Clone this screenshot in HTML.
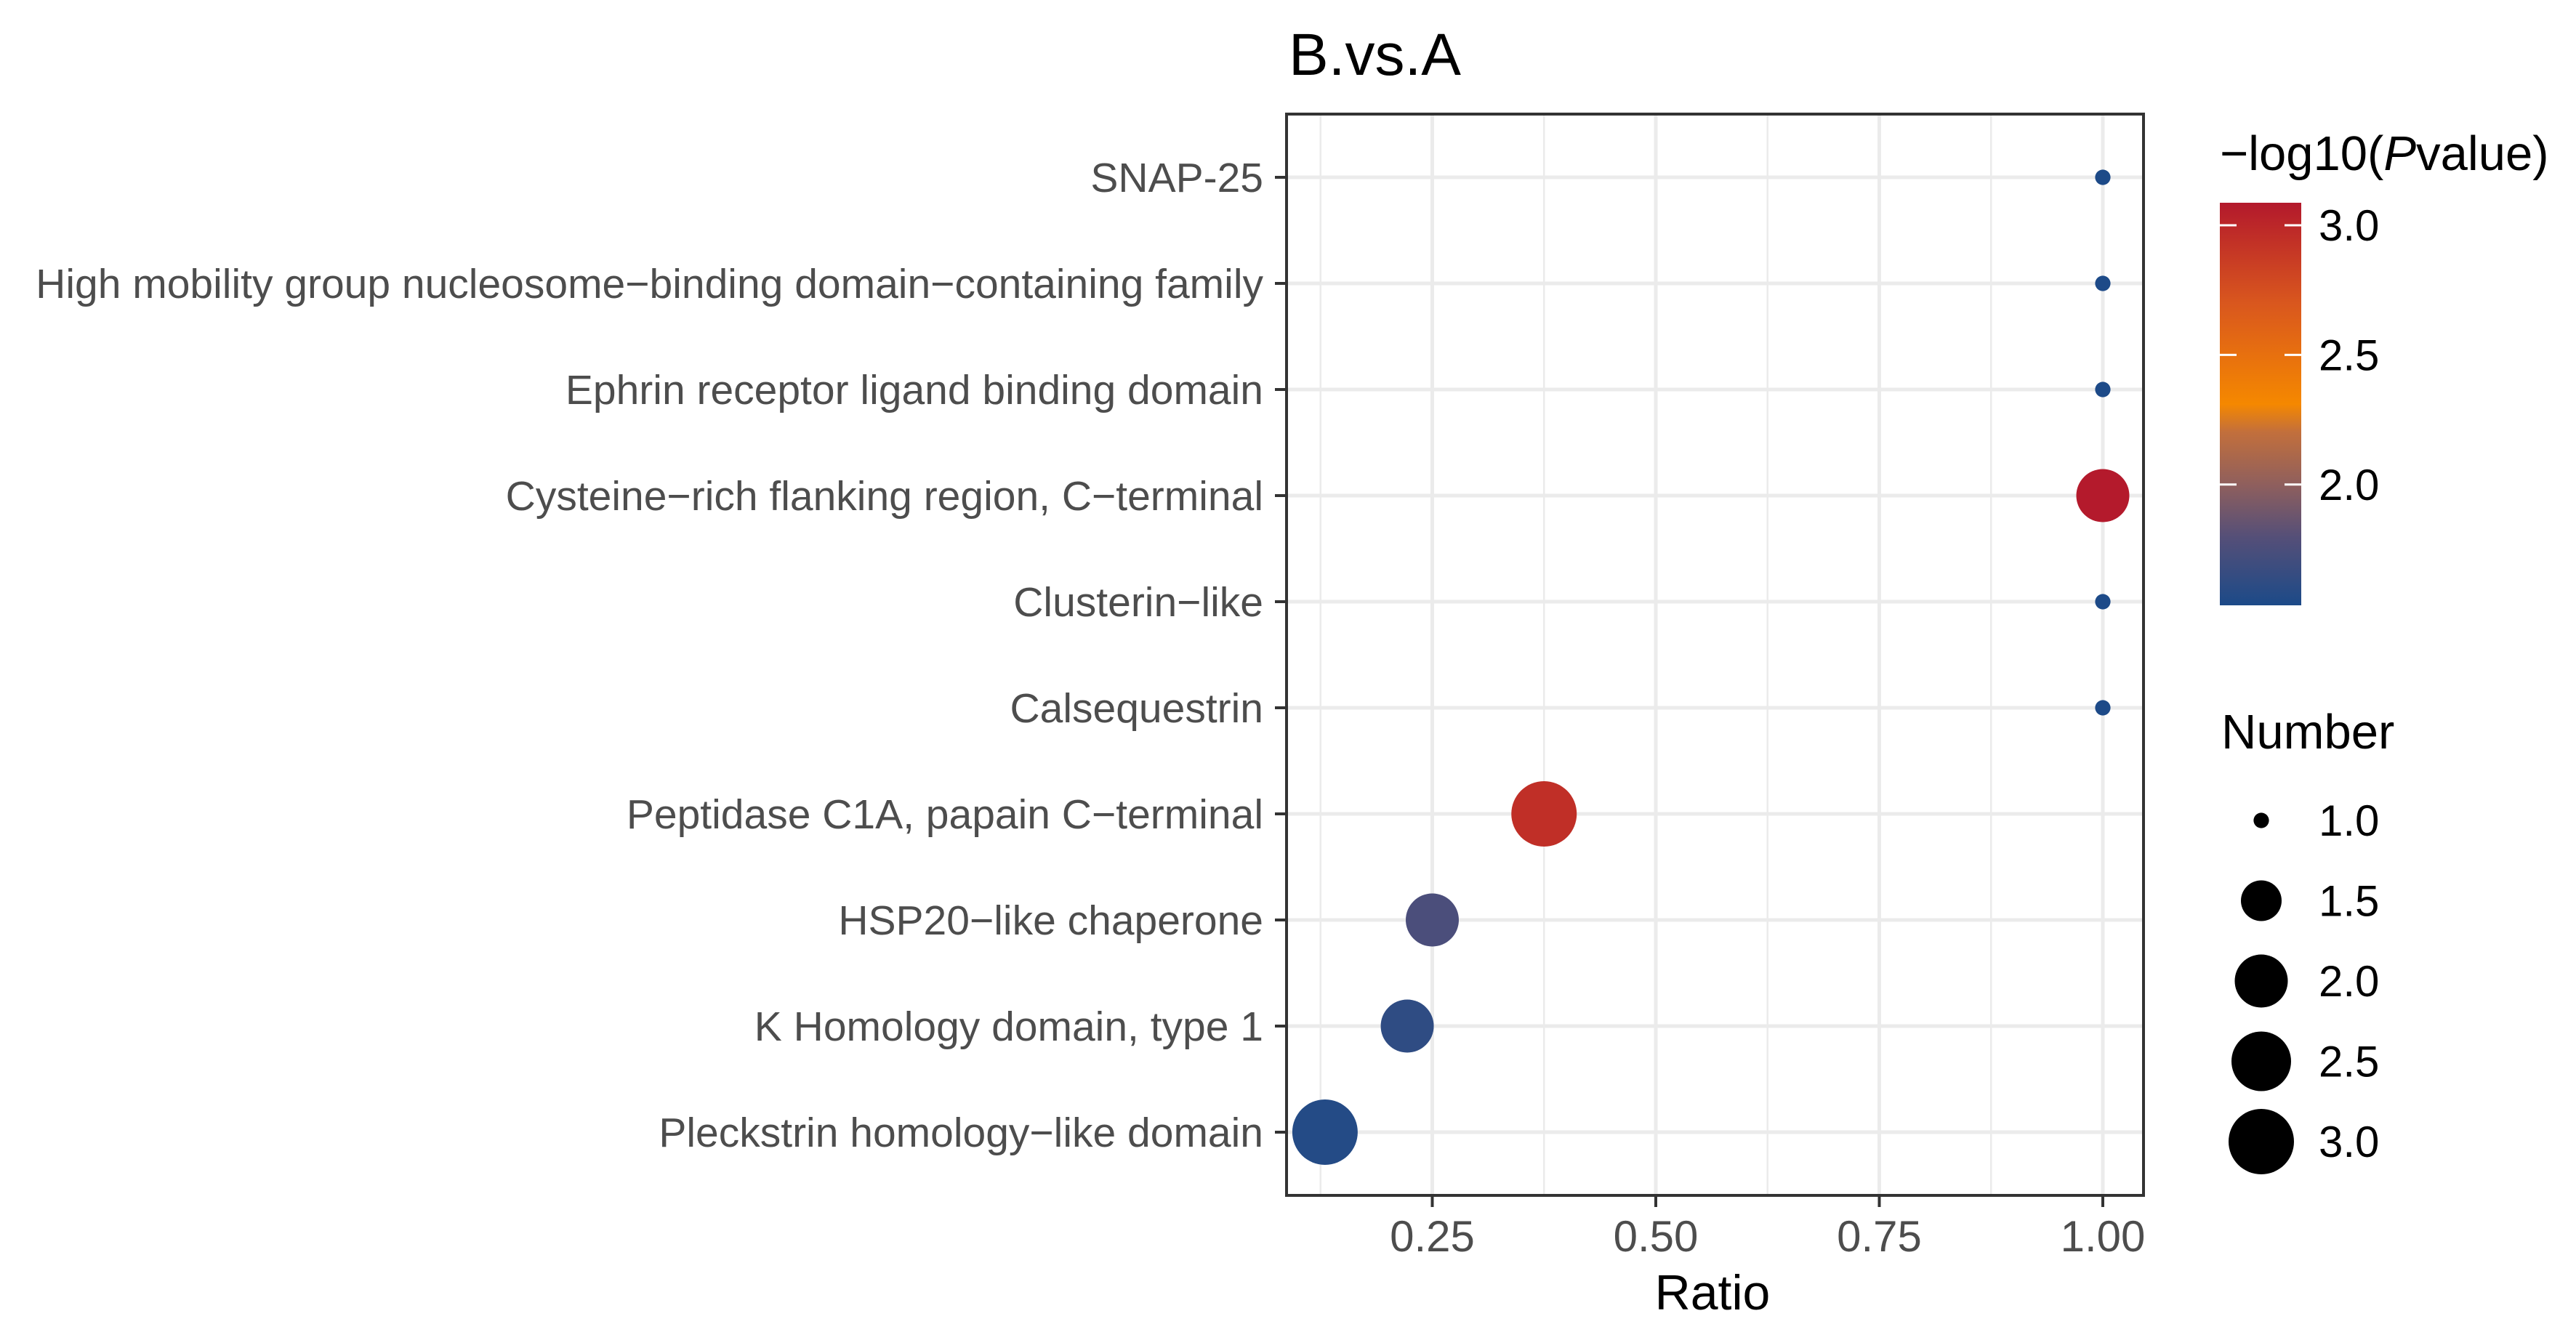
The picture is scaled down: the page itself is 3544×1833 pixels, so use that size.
<!DOCTYPE html>
<html><head><meta charset="utf-8"><style>
html,body{margin:0;padding:0;background:#fff;}
svg{display:block;font-family:"Liberation Sans",Arial,sans-serif;}
</style></head><body>
<svg id="chart" width="3544" height="1833" viewBox="0 0 3544 1833">
<defs>
<linearGradient id="cbar" x1="0" y1="1" x2="0" y2="0">
<stop offset="0" stop-color="#1c4a88"/>
<stop offset="0.17" stop-color="#554f78"/>
<stop offset="0.3" stop-color="#8f5f5d"/>
<stop offset="0.43" stop-color="#c26f3c"/>
<stop offset="0.5" stop-color="#f58800"/>
<stop offset="0.75" stop-color="#d9571e"/>
<stop offset="1" stop-color="#b3192c"/>
</linearGradient>
</defs>
<text x="1773" y="103" font-size="82" fill="#000">B.vs.A</text>
<g id="grid"></g>
<g id="marks"></g>
<rect x="1770" y="157" width="1179" height="1488" fill="none" stroke="#333" stroke-width="4"/>
<g id="axes"></g>
<text x="2356" y="1802" font-size="68" text-anchor="middle" fill="#000">Ratio</text>
<g id="legend">
<text x="3054" y="234" font-size="67" fill="#000">−log10(<tspan font-style="italic">P</tspan>value)</text>
<rect x="3054" y="279" width="112" height="554" fill="url(#cbar)"/>
<text x="3056" y="1030" font-size="67" fill="#000">Number</text>
</g>
</svg>
<script>
const categories = ["SNAP-25","High mobility group nucleosome−binding domain−containing family","Ephrin receptor ligand binding domain","Cysteine−rich flanking region, C−terminal","Clusterin−like","Calsequestrin","Peptidase C1A, papain C−terminal","HSP20−like chaperone","K Homology domain, type 1","Pleckstrin homology−like domain"];
const ratioValues = [1.0,1.0,1.0,1.0,1.0,1.0,0.375,0.25,0.222,0.13];
const countValues = [1,1,1,2,1,1,3,2,2,3];
const logPValues = [1.54,1.54,1.54,3.08,1.54,1.54,2.95,1.75,1.62,1.57];
const xTicks = [0.25,0.5,0.75,1.0];
const xTickLabels = ["0.25","0.50","0.75","1.00"];
const xMinorTicks = [0.125,0.375,0.625,0.875];
const colorTicks = [2.0,2.5,3.0];
const colorTickLabels = ["2.0","2.5","3.0"];
const sizeBreaks = [1.0,1.5,2.0,2.5,3.0];
const sizeLabels = ["1.0","1.5","2.0","2.5","3.0"];

const NS="http://www.w3.org/2000/svg";
const px0=1663, pxPer=1230;
function xs(v){return px0+v*pxPer;}
function ys(i){return 244+i*146;}
const cMin=1.534,cMax=3.087,cTop=279,cBot=833;
function cs(v){return cBot-(v-cMin)/(cMax-cMin)*(cBot-cTop);}
const sizeDom=[1,1.5,2,2.5,3], sizeRad=[10.6,28,36.5,41,45];
function rs(n){
  if(n<=sizeDom[0])return sizeRad[0];
  for(let i=1;i<sizeDom.length;i++){if(n<=sizeDom[i]){const t=(n-sizeDom[i-1])/(sizeDom[i]-sizeDom[i-1]);return sizeRad[i-1]+t*(sizeRad[i]-sizeRad[i-1]);}}
  return sizeRad[sizeRad.length-1];
}
const cStops=[[0,[28,74,136]],[0.17,[85,79,120]],[0.3,[143,95,93]],[0.43,[194,111,60]],[0.5,[245,136,0]],[0.75,[217,87,30]],[1,[179,25,44]]];
function colorOf(v){
  let t=(v-cMin)/(cMax-cMin);t=Math.max(0,Math.min(1,t));
  for(let i=1;i<cStops.length;i++){if(t<=cStops[i][0]){const a=cStops[i-1],b=cStops[i];const u=(t-a[0])/(b[0]-a[0]);const c=a[1].map((x,k)=>Math.round(x+u*(b[1][k]-x)));return "rgb("+c.join(",")+")";}}
  return "rgb(179,25,44)";
}
function mk(tag,attrs,parent){const e=document.createElementNS(NS,tag);for(const k in attrs)e.setAttribute(k,attrs[k]);parent.appendChild(e);return e;}

const grid=document.getElementById("grid");
mk("rect",{x:1770,y:157,width:1179,height:1488,fill:"#fff"},grid);
xMinorTicks.forEach(v=>{const l=mk("line",{x1:xs(v),x2:xs(v),y1:157,y2:1645,stroke:"#ebebeb","stroke-width":2.5},grid);

});
xTicks.forEach(v=>{const l=mk("line",{x1:xs(v),x2:xs(v),y1:157,y2:1645,stroke:"#ebebeb","stroke-width":5},grid);

});
categories.forEach((c,i)=>{const l=mk("line",{x1:1770,x2:2949,y1:ys(i),y2:ys(i),stroke:"#ebebeb","stroke-width":5},grid);

});

const marks=document.getElementById("marks");
categories.forEach((c,i)=>{
  const d=mk("circle",{cx:xs(ratioValues[i]),cy:ys(i),r:rs(countValues[i]),fill:colorOf(logPValues[i])},marks);
  
  
});

const axes=document.getElementById("axes");
categories.forEach((c,i)=>{
  const t=mk("line",{x1:1754,x2:1770,y1:ys(i),y2:ys(i),stroke:"#333","stroke-width":4},axes);
  
  
  const lb=mk("text",{x:1738,y:ys(i)+20,"font-size":57,"text-anchor":"end",fill:"#4d4d4d"},axes);
  lb.textContent=c;
  
  
});
xTicks.forEach((v,i)=>{
  const t=mk("line",{x1:xs(v),x2:xs(v),y1:1645,y2:1661,stroke:"#333","stroke-width":4},axes);
  
  
  const lb=mk("text",{x:xs(v),y:1722,"font-size":60,"text-anchor":"middle",fill:"#4d4d4d"},axes);
  lb.textContent=xTickLabels[i];
  
  
});

const legend=document.getElementById("legend");
colorTicks.forEach((v,i)=>{
  const y=cs(v);
  const a=mk("line",{x1:3054,x2:3077,y1:y,y2:y,stroke:"#fff","stroke-width":3},legend);
  
  
  const b=mk("line",{x1:3143,x2:3166,y1:y,y2:y,stroke:"#fff","stroke-width":3},legend);
  
  
  const lb=mk("text",{x:3190,y:y+21,"font-size":60,fill:"#000"},legend);
  lb.textContent=colorTickLabels[i];
  
  
});
sizeBreaks.forEach((v,i)=>{
  const y=1129+i*110.5;
  const c=mk("circle",{cx:3111,cy:y,r:rs(v),fill:"#000"},legend);
  
  
  const lb=mk("text",{x:3190,y:y+21,"font-size":60,fill:"#000"},legend);
  lb.textContent=sizeLabels[i];
  
  
});
</script>
</body></html>
